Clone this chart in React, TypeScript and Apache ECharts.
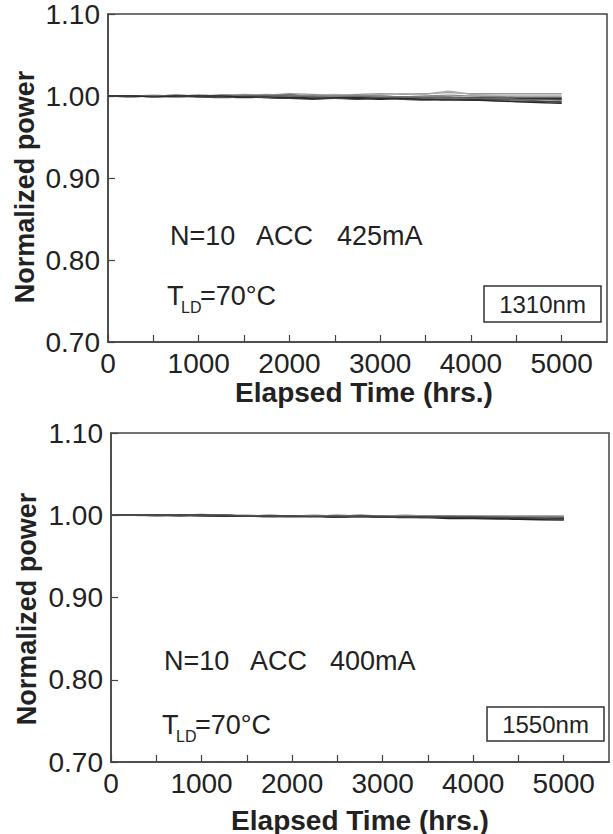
import React, { useEffect, useRef } from "react";
import * as echarts from "echarts";

// Sampling times (hours) shared by every trace
const HOURS = [0, 250, 500, 750, 1000, 1250, 1500, 1750, 2000, 2250, 2500, 2750, 3000, 3250, 3500, 3750, 4000, 4500, 5000];

// 1310 nm devices, normalized optical power
const P1310_1 = [1.000, 1.000, 1.001, 1.000, 1.000, 1.001, 1.002, 1.001, 1.003, 1.002, 1.001, 1.002, 1.003, 1.002, 1.003, 1.004, 1.003, 1.003, 1.003];
const P1310_2 = [1.000, 1.000, 0.999, 1.000, 1.001, 1.000, 1.001, 1.002, 1.001, 1.001, 1.002, 1.001, 1.002, 1.003, 1.002, 1.006, 1.002, 1.001, 1.001];
const P1310_3 = [1.000, 1.000, 1.000, 0.999, 1.000, 1.001, 1.000, 1.000, 0.999, 1.000, 0.999, 1.000, 0.999, 0.998, 0.999, 0.999, 0.998, 0.998, 0.998];
const P1310_4 = [1.000, 0.999, 1.000, 1.000, 0.999, 0.999, 0.998, 0.999, 0.998, 0.998, 0.999, 0.998, 0.997, 0.997, 0.998, 0.997, 0.997, 0.997, 0.997];
const P1310_5 = [1.000, 1.000, 1.000, 1.001, 1.000, 1.000, 0.999, 0.998, 0.997, 0.998, 0.997, 0.997, 0.996, 0.997, 0.996, 0.997, 0.996, 0.996, 0.996];
const P1310_6 = [1.000, 1.000, 0.999, 0.999, 1.000, 1.000, 1.001, 1.000, 1.002, 0.999, 1.000, 0.999, 1.000, 0.998, 0.997, 0.997, 0.997, 0.996, 0.992];
const P1310_7 = [1.000, 1.000, 1.000, 1.000, 0.999, 0.998, 0.999, 0.998, 0.997, 0.996, 0.997, 0.996, 0.997, 0.996, 0.995, 0.996, 0.995, 0.994, 0.993];
const P1310_8 = [1.000, 0.999, 1.000, 1.000, 1.001, 1.000, 1.000, 0.999, 1.000, 1.001, 1.000, 1.001, 1.000, 0.999, 1.000, 1.001, 1.000, 0.999, 0.999];
const P1310_9 = [1.000, 1.000, 1.000, 1.000, 1.000, 0.999, 1.000, 1.001, 1.000, 0.999, 0.998, 0.999, 0.998, 0.999, 0.998, 0.998, 0.997, 0.996, 0.995];
const P1310_10 = [1.000, 1.000, 0.999, 1.000, 1.000, 1.000, 0.999, 0.999, 0.998, 0.997, 0.998, 0.998, 0.997, 0.997, 0.996, 0.995, 0.995, 0.993, 0.991];

// 1550 nm devices, normalized optical power
const P1550_1 = [1.000, 1.000, 1.000, 1.000, 1.001, 1.000, 0.999, 0.999, 0.999, 0.999, 0.999, 1.000, 0.999, 0.999, 0.999, 0.999, 0.999, 0.999, 0.999];
const P1550_2 = [1.000, 1.000, 1.000, 1.000, 1.000, 0.999, 0.999, 0.999, 0.998, 0.999, 0.999, 0.999, 0.998, 0.998, 0.998, 0.998, 0.997, 0.996, 0.995];
const P1550_3 = [1.000, 1.000, 1.000, 0.999, 1.000, 1.000, 0.999, 0.998, 0.999, 0.999, 0.998, 0.999, 0.998, 0.998, 0.997, 0.997, 0.997, 0.996, 0.996];
const P1550_4 = [1.000, 1.000, 1.000, 1.000, 1.000, 1.000, 0.999, 0.999, 0.999, 0.999, 0.998, 0.998, 0.998, 0.997, 0.997, 0.996, 0.996, 0.995, 0.994];
const P1550_5 = [1.000, 1.000, 0.999, 1.000, 1.000, 0.999, 0.999, 0.999, 0.999, 0.999, 0.999, 0.999, 0.999, 0.998, 0.998, 0.998, 0.998, 0.998, 0.998];
const P1550_6 = [1.000, 1.000, 1.000, 1.000, 1.000, 1.000, 0.999, 1.000, 0.999, 0.999, 1.000, 0.999, 0.999, 0.999, 0.999, 0.999, 0.998, 0.998, 0.997];
const P1550_7 = [1.000, 1.000, 1.000, 1.000, 0.999, 0.999, 0.999, 0.999, 0.999, 0.999, 0.998, 0.999, 0.999, 0.998, 0.998, 0.998, 0.997, 0.997, 0.997];
const P1550_8 = [1.000, 1.000, 1.000, 1.000, 1.000, 1.000, 1.000, 0.999, 0.999, 1.000, 0.999, 0.999, 0.999, 1.000, 0.999, 0.999, 0.999, 0.998, 0.998];
const P1550_9 = [1.000, 1.000, 1.000, 1.000, 1.000, 0.999, 0.999, 0.999, 0.999, 0.998, 0.998, 0.999, 0.998, 0.998, 0.998, 0.997, 0.997, 0.996, 0.996];
const P1550_10 = [1.000, 1.000, 1.000, 1.000, 1.000, 1.000, 0.999, 0.999, 0.999, 0.999, 0.999, 0.998, 0.998, 0.998, 0.998, 0.998, 0.998, 0.997, 0.995];

const TOP_SERIES = [P1310_1, P1310_2, P1310_3, P1310_4, P1310_5, P1310_6, P1310_7, P1310_8, P1310_9, P1310_10];
const BOTTOM_SERIES = [P1550_1, P1550_2, P1550_3, P1550_4, P1550_5, P1550_6, P1550_7, P1550_8, P1550_9, P1550_10];

const TOP_COLORS = ["#9a9a9a", "#aaaaaa", "#555555", "#333333", "#222222", "#777777", "#444444", "#888888", "#666666", "#2a2a2a"];
const BOTTOM_COLORS = ["#555555", "#333333", "#444444", "#222222", "#777777", "#666666", "#3a3a3a", "#888888", "#2a2a2a", "#4a4a4a"];

const FONT = "'Liberation Sans', Arial, Helvetica, sans-serif";
const INK = "#222222";
const FRAME = "#444444";

function xAxisFor(gridIndex: number) {
  return {
    type: "value",
    gridIndex,
    min: 0,
    max: 5500,
    interval: 500,
    axisLine: { show: true, lineStyle: { color: FRAME, width: 1.5 } },
    axisTick: { show: true, inside: true, length: 7, lineStyle: { color: FRAME, width: 1.2 } },
    splitLine: { show: false },
    axisLabel: {
      color: INK,
      fontFamily: FONT,
      fontSize: 28,
      margin: 7,
      showMaxLabel: false,
      formatter: (v: number) => (v % 1000 === 0 && v <= 5000 ? String(v) : ""),
    },
  };
}

function yAxisFor(gridIndex: number) {
  return {
    type: "value",
    gridIndex,
    min: 0.7,
    max: 1.1,
    interval: 0.1,
    axisLine: { show: true, lineStyle: { color: FRAME, width: 1.5 } },
    axisTick: { show: true, inside: true, length: 7, lineStyle: { color: FRAME, width: 1.2 } },
    splitLine: { show: false },
    axisLabel: {
      color: INK,
      fontFamily: FONT,
      fontSize: 28,
      margin: 8,
      formatter: (v: number) => v.toFixed(2),
    },
  };
}

function traces(list: number[][], colors: string[], axisIndex: number) {
  return list.map((vals, i) => ({
    type: "line",
    name: `trace-${axisIndex}-${i}`,
    xAxisIndex: axisIndex,
    yAxisIndex: axisIndex,
    showSymbol: false,
    symbol: "none",
    smooth: 0.2,
    lineStyle: { color: colors[i], width: 1.3 },
    data: HOURS.map((h, k) => [h, vals[k]]),
  }));
}

function txt(x: number, y: number, text: string, fontSize: number, extra: any = {}) {
  return {
    type: "text",
    x,
    y,
    style: {
      text,
      fill: INK,
      font: `${extra.weight || "normal"} ${fontSize}px ${FONT}`,
      textAlign: extra.align || "left",
      textVerticalAlign: "middle",
    },
    rotation: extra.rotation || 0,
  };
}

function panelGraphics(o: {
  yTitleX: number;
  yTitleY: number;
  xTitleX: number;
  xTitleY: number;
  nx: number;
  ax: number;
  mx: number;
  ny: number;
  current: string;
  tx: number;
  ty: number;
  box: [number, number, number, number];
  wavelength: string;
}) {
  const [bx, by, bw, bh] = o.box;
  return [
    txt(o.yTitleX, o.yTitleY, "Normalized power", 27, { weight: "bold", align: "center", rotation: Math.PI / 2 }),
    txt(o.xTitleX, o.xTitleY, "Elapsed Time (hrs.)", 28, { weight: "bold", align: "center" }),
    txt(o.nx, o.ny, "N=10", 27),
    txt(o.ax, o.ny, "ACC", 27),
    txt(o.mx, o.ny, o.current, 27),
    txt(o.tx, o.ty, "T", 27),
    txt(o.tx + 14, o.ty + 11, "LD", 16),
    txt(o.tx + 33, o.ty, "=70°C", 27),
    {
      type: "rect",
      shape: { x: bx, y: by, width: bw, height: bh },
      style: { fill: "#ffffff", stroke: "#333333", lineWidth: 1.5 },
    },
    txt(bx + bw / 2, by + bh / 2, o.wavelength, 24, { align: "center" }),
  ];
}

export default function App() {
  const ref = useRef<HTMLDivElement>(null);

  useEffect(() => {
    if (!ref.current) return;
    const chart = echarts.init(ref.current, null, { renderer: "svg" });
    chart.setOption({
      animation: false,
      backgroundColor: "#ffffff",
      grid: [
        { left: 108, top: 12, width: 499, height: 330, show: true, borderColor: FRAME, borderWidth: 1.5, backgroundColor: "transparent" },
        { left: 111, top: 433, width: 498, height: 329, show: true, borderColor: FRAME, borderWidth: 1.5, backgroundColor: "transparent" },
      ],
      xAxis: [xAxisFor(0), xAxisFor(1)],
      yAxis: [yAxisFor(0), yAxisFor(1)],
      series: [...traces(TOP_SERIES, TOP_COLORS, 0), ...traces(BOTTOM_SERIES, BOTTOM_COLORS, 1)],
      graphic: [
        ...panelGraphics({
          yTitleX: 25, yTitleY: 187, xTitleX: 364, xTitleY: 392,
          nx: 170, ax: 256, mx: 337, ny: 236, current: "425mA",
          tx: 167, ty: 296, box: [484, 286, 117, 36], wavelength: "1310nm",
        }),
        ...panelGraphics({
          yTitleX: 27, yTitleY: 609, xTitleX: 360, xTitleY: 820,
          nx: 164, ax: 250, mx: 330, ny: 661, current: "400mA",
          tx: 162, ty: 725, box: [487, 707, 117, 34], wavelength: "1550nm",
        }),
      ],
    });
    return () => chart.dispose();
  }, []);

  return (
    <div
      ref={ref}
      style={{ position: "fixed", left: 0, top: 0, width: 613, height: 834, background: "#ffffff" }}
    />
  );
}
